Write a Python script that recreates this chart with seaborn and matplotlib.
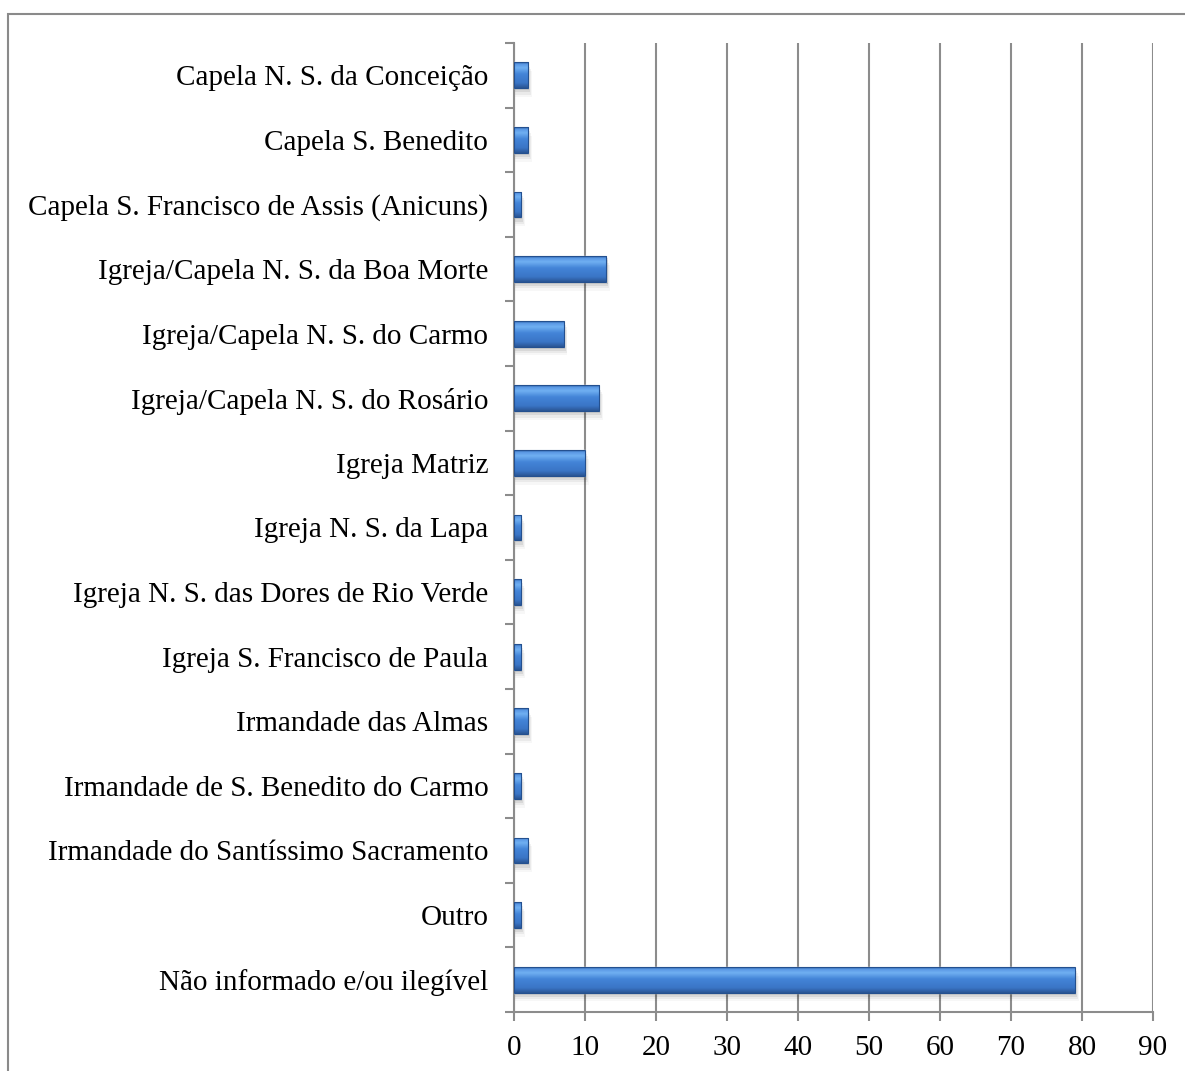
import numpy as np
import pandas as pd
import matplotlib
matplotlib.use("Agg")
import matplotlib.pyplot as plt
from matplotlib.patches import Rectangle
from matplotlib.colors import LinearSegmentedColormap
import seaborn as sns

categories = [
    "Capela N. S. da Conceição",
    "Capela S. Benedito",
    "Capela S. Francisco de Assis (Anicuns)",
    "Igreja/Capela N. S. da Boa Morte",
    "Igreja/Capela N. S. do Carmo",
    "Igreja/Capela N. S. do Rosário",
    "Igreja Matriz",
    "Igreja N. S. da Lapa",
    "Igreja N. S. das Dores de Rio Verde",
    "Igreja S. Francisco de Paula",
    "Irmandade das Almas",
    "Irmandade de S. Benedito do Carmo",
    "Irmandade do Santíssimo Sacramento",
    "Outro",
    "Não informado e/ou ilegível",
]
counts = [2, 2, 1, 13, 7, 12, 10, 1, 1, 1, 2, 1, 2, 1, 79]
x_ticks = [0, 10, 20, 30, 40, 50, 60, 70, 80, 90]

df = pd.DataFrame({"local": categories, "n": counts})

sns.set_theme(style="white")
plt.rcParams["font.family"] = ["Liberation Serif", "DejaVu Serif"]

W, H = 1185, 1071
fig = plt.figure(figsize=(W / 100, H / 100), dpi=100)
ax = fig.add_axes([514 / W, 59 / H, (1153 - 514) / W, (1012 - 43) / H])

sns.barplot(data=df, x="n", y="local", orient="h", color="#3d7bcf",
            width=0.4, ax=ax, zorder=3)

grid_c = "#8c8c8c"
ax.set_xlim(0, 90)
ax.set_ylim(len(categories) - 0.5, -0.5)
ax.set_xticks(x_ticks)
ax.set_xticklabels([str(t) for t in x_ticks])
ax.xaxis.grid(True, color=grid_c, linewidth=1.5, zorder=0)
ax.yaxis.grid(False)
ax.set_axisbelow(True)
ax.set_xlabel("")
ax.set_ylabel("")

for s in ["top", "right"]:
    ax.spines[s].set_visible(False)
for s in ["left", "bottom"]:
    ax.spines[s].set_color(grid_c)
    ax.spines[s].set_linewidth(1.5)

ax.tick_params(axis="x", which="major", bottom=True, length=6.5, width=1.5,
               color=grid_c, labelsize=21, pad=10, labelcolor="black")
ax.tick_params(axis="y", which="major", left=True, length=0, labelsize=21,
               pad=18.5, labelcolor="black")
ax.set_yticks(np.arange(-0.5, len(categories) + 0.5, 1), minor=True)
ax.tick_params(axis="y", which="minor", left=True, length=6.5, width=1.5,
               color=grid_c)

# glossy shading and soft shadow on each bar
cmap = LinearSegmentedColormap.from_list(
    "gloss",
    [(0.0, "#2c5ea6"), (0.08, "#5a98e4"), (0.22, "#70b0f2"),
     (0.45, "#4485d8"), (0.8, "#3a75c6"), (1.0, "#2a5592")])
grad = np.linspace(0, 1, 128).reshape(-1, 1)
for p in list(ax.patches):
    x0, y0 = p.get_x(), p.get_y()
    w, h = p.get_width(), p.get_height()
    for k, a in enumerate([0.12, 0.08, 0.05, 0.03]):
        off = 0.03 + 0.035 * k
        sh = Rectangle((x0 + 0.05, y0 + off), w + 0.12 * (k + 1), h,
                       facecolor="#000000", alpha=a, edgecolor="none",
                       zorder=2)
        ax.add_patch(sh)
    im = ax.imshow(grad, aspect="auto", cmap=cmap,
                   extent=(x0, x0 + w, y0 + h, y0), zorder=4,
                   interpolation="bilinear")
    im.set_clip_path(p)
    ax.add_patch(Rectangle((x0, y0), w, h, facecolor="none",
                           edgecolor="#24508f", linewidth=0.8, zorder=5))
ax.set_xlim(0, 90)
ax.set_ylim(len(categories) - 0.5, -0.5)

# outer frame
fig.patches.append(Rectangle((8 / W, -0.1), 1.2, (H - 14) / H + 0.1,
                             transform=fig.transFigure, fill=False,
                             edgecolor="#8a8a8a", linewidth=1.5))

fig.savefig("out.png", dpi=100)
